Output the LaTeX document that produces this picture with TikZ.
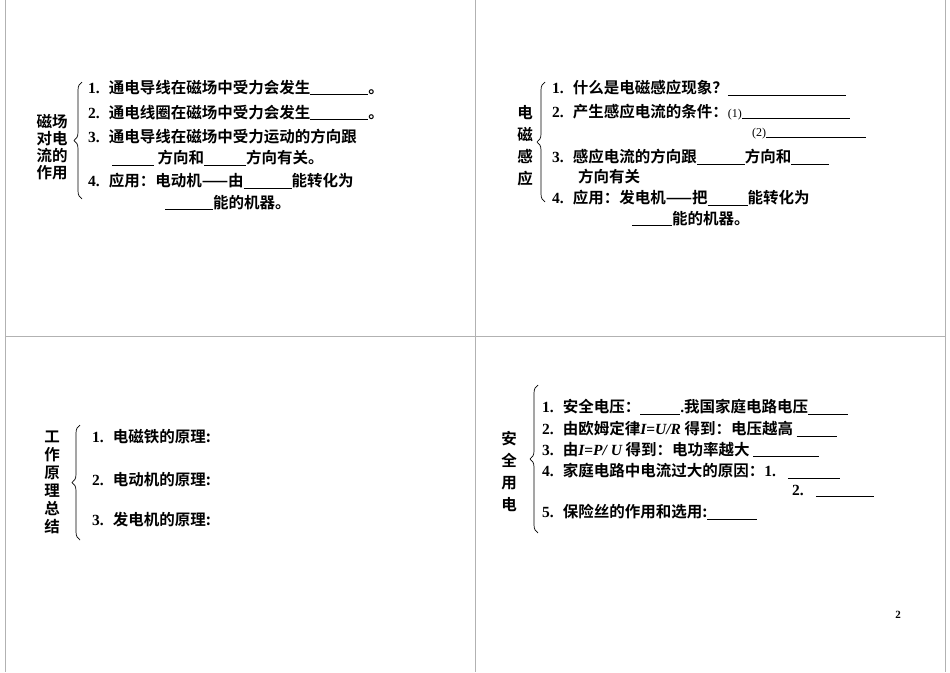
\documentclass[tikz,border=0pt]{standalone}
\usepackage{fontspec}
\setmainfont{Liberation Serif}
\newfontfamily\cjk{Noto Sans CJK SC}[BoldFont={Noto Sans CJK SC Bold}]
\usetikzlibrary{decorations.pathreplacing}
\newcommand{\bk}[1]{\rule[-1.5pt]{#1pt}{0.9pt}}
\newcommand{\nm}[1]{{\rmfamily\bfseries #1}}
\newcommand{\num}[1]{{\rmfamily\bfseries #1.}\hspace{9pt}}
\tikzset{t/.style={anchor=west,inner sep=0pt,font=\cjk\bfseries\fontsize{15.5}{18}\selectfont},
 lb/.style={anchor=center,inner sep=0pt,align=center,font=\cjk\bfseries\fontsize{15.5}{22}\selectfont},
 br/.style={decorate,decoration={brace,amplitude=8pt},line width=0.7pt},
 grid/.style={draw=gray!60,line width=0.8pt}}
\begin{document}
\begin{tikzpicture}[x=1pt,y=-1pt]
\useasboundingbox (0,0) rectangle (950,672);
\draw[grid] (5,0)--(5,672) (475,0)--(475,672) (945,0)--(945,672) (5,336)--(945,336);
% Q1
\node[lb] (l1) at (52,147) {磁场\\[-5pt]对电\\[-5pt]流的\\[-5pt]作用};
\draw[br] (82,199) -- (82,82);
\node[t] (a1) at (88,88) {\num{1}通电导线在磁场中受力会发生\bk{58}。};
\node[t] (a2) at (88,113) {\num{2}通电线圈在磁场中受力会发生\bk{58}。};
\node[t] (a3) at (88,137) {\num{3}通电导线在磁场中受力运动的方向跟};
\node[t] (a3b) at (112,158) {\bk{42} 方向和\bk{42}方向有关。};
\node[t] (a4) at (88,181) {\num{4}应用：电动机——由\bk{48}能转化为};
\node[t] (a4b) at (165,203) {\bk{48}能的机器。};
% Q2
\node[lb] (l2) at (525,146) {电\\磁\\感\\应};
\draw[br] (545,202) -- (545,82);
\node[t] (c1) at (552,88) {\num{1}什么是电磁感应现象？\bk{118}};
\node[t] (c2) at (552,112) {\num{2}产生感应电流的条件：\nm{\fontsize{12}{14}\selectfont\mdseries(1)}\bk{108}};
\node[t] (c2b) at (752,134) {\nm{\fontsize{12}{14}\selectfont\mdseries(2)}\bk{100}};
\node[t] (c3) at (552,157) {\num{3}感应电流的方向跟\bk{48}方向和\bk{38}};
\node[t] (c3b) at (578,177) {方向有关};
\node[t] (c4) at (552,198) {\num{4}应用：发电机——把\bk{40}能转化为};
\node[t] (c4b) at (632,219) {\bk{40}能的机器。};
% Q3
\node[lb] (l3) at (52,482) {工\\[-4pt]作\\[-4pt]原\\[-4pt]理\\[-4pt]总\\[-4pt]结};
\draw[br] (80,540) -- (80,425);
\node[t] (e1) at (92,437) {\num{1}电磁铁的原理:};
\node[t] (e2) at (92,480) {\num{2}电动机的原理:};
\node[t] (e3) at (92,520) {\num{3}发电机的原理:};
% Q4
\node[lb] (l4) at (509,471) {安\\全\\用\\电};
\draw[br] (538,533) -- (538,385);
\node[t] (s1) at (542,407) {\num{1}安全电压：\bk{40}\nm{.}我国家庭电路电压\bk{40}};
\node[t] (s2) at (542,429) {\num{2}由欧姆定律\nm{\itshape I}\nm{=}\nm{\itshape U/R} 得到：电压越高 \bk{40}};
\node[t] (s3) at (542,450) {\num{3}由\nm{\itshape I}\nm{=}\nm{\itshape P/ U} 得到：电功率越大 \bk{66}};
\node[t] (s4) at (542,471) {\num{4}家庭电路中电流过大的原因：\nm{1.}\hspace{12pt}\bk{52}};
\node[t] (s4b) at (792,491) {\nm{2.}\hspace{12pt}\bk{58}};
\node[t] (s5) at (542,512) {\num{5}保险丝的作用和选用:\bk{50}};
\node[inner sep=0pt,font=\rmfamily\bfseries\fontsize{11}{13}\selectfont] (pg) at (898,615) {2};
\end{tikzpicture}
\end{document}
